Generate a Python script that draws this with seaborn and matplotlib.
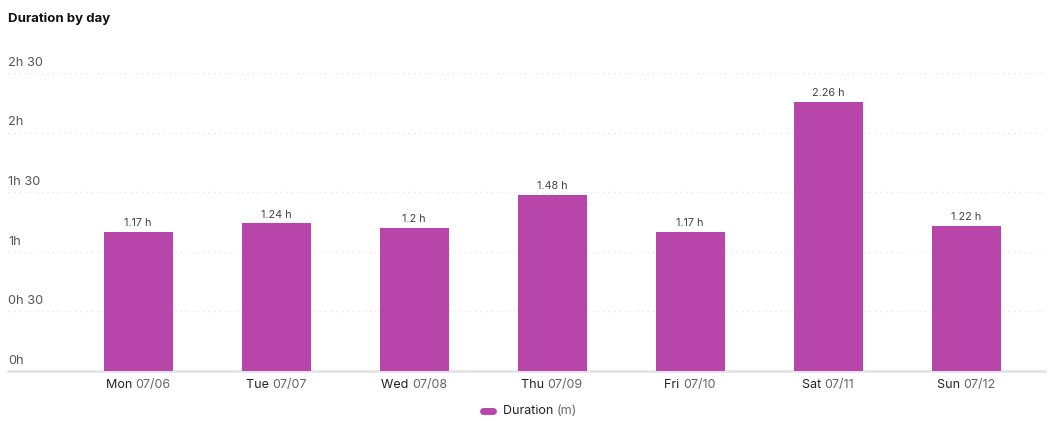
import matplotlib
matplotlib.use("Agg")
import matplotlib.pyplot as plt
import seaborn as sns
import pandas as pd
from matplotlib.lines import Line2D

days = ['Mon', 'Tue', 'Wed', 'Thu', 'Fri', 'Sat', 'Sun']
dates = ['07/06', '07/07', '07/08', '07/09', '07/10', '07/11', '07/12']
hours = [1.17, 1.24, 1.2, 1.48, 1.17, 2.26, 1.22]
yticks = [0, 0.5, 1, 1.5, 2, 2.5]

bar_color = '#b845aa'

sns.set_theme(style='white')
plt.rcParams['font.family'] = ['Inter', 'DejaVu Sans']

df = pd.DataFrame({'day': [d + ' ' + t for d, t in zip(days, dates)], 'hours': hours})

fig = plt.figure(figsize=(10.53, 4.21), dpi=100)
ax = fig.add_axes([8/1053, 50/421, 1037/1053, 298/421])

sns.barplot(data=df, x='day', y='hours', color=bar_color, width=0.5, saturation=1,
            linewidth=0, ax=ax, zorder=3)

ax.set_xlim(-130/138, 907/138)
ax.set_ylim(0, 2.5)
ax.set_xlabel('')
ax.set_ylabel('')
for s in ['top', 'right', 'left']:
    ax.spines[s].set_visible(False)
ax.spines['bottom'].set_color('#e2e2e2')
ax.spines['bottom'].set_linewidth(1.8)

# grid lines (dotted)
for t in yticks[1:]:
    ax.axhline(t, color='#e6e6e6', lw=1, ls=(0, (1, 3)), zorder=1)

# y labels above grid lines
ax.set_yticks([])
for t in yticks:
    lab = f"{int(t)}h" + (" 30" if t % 1 else "")
    ax.annotate(lab, xy=(0, t), xycoords=('axes fraction', 'data'), xytext=(0, 3),
                textcoords='offset points', ha='left', va='bottom', fontsize=9.2, color='#555555')

# bar value labels
for i, v in enumerate(hours):
    ax.annotate(f"{v:g} h", xy=(i, v), xytext=(0, 2.5), textcoords='offset points',
                ha='center', va='bottom', fontsize=7.8, color='#444444')

# two-colour x tick labels
ax.set_xticks([])
fig.canvas.draw()
r = fig.canvas.get_renderer()
for i, (d, t) in enumerate(zip(days, dates)):
    t1 = ax.annotate(d + ' ', xy=(i, 0), xytext=(0, -5.5), textcoords='offset points',
                     ha='left', va='top', fontsize=9, color='#222222')
    t2 = ax.annotate(t, xy=(1, 0), xycoords=t1, ha='left', va='bottom', fontsize=9, color='#666666')
    w = t1.get_window_extent(r).width + t2.get_window_extent(r).width
    t1.xyann = (-w / 2 * 72 / fig.dpi, -5.5)

# title
fig.text(8/1053, 1 - 19/421, 'Duration by day', fontsize=9.5, fontweight='bold', color='#111111',
         ha='left', va='center')

# legend
fig.add_artist(Line2D([483/1053, 493/1053], [10/421, 10/421], color=bar_color, lw=5,
                      solid_capstyle='round'))
l1 = fig.text(503/1053, 10/421, 'Duration ', fontsize=9, color='#222222', ha='left', va='center')
ax.annotate('(m)', xy=(1, 0), xycoords=l1, ha='left', va='bottom', fontsize=9, color='#666666')

fig.savefig('out.png', dpi=100)
